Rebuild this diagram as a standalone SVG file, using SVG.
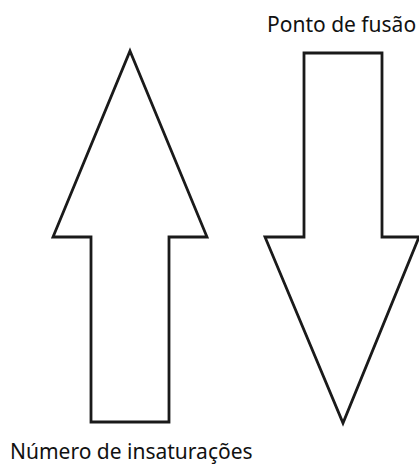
<svg xmlns="http://www.w3.org/2000/svg" width="419" height="465" viewBox="0 0 419 465">
<style>
.arrow{fill:#fff;stroke:#1a1a1a;stroke-width:2.8;stroke-linejoin:miter}
.lbl{font-family:"Noto Sans","Open Sans",sans-serif;font-size:21px;fill:#111}
</style>
<rect width="419" height="465" fill="#fff"/>
<g id="up-arrow">
<polygon class="arrow" points="130,51 207,237 169,237 169,422 91,422 91,237 53,237"/>
</g>
<g id="down-arrow">
<polygon class="arrow" points="304,53 382,53 382,237 419,237 343,423 265,237 304,237"/>
</g>
<g id="labels">
<text class="lbl" x="267" y="32">Ponto de fusão</text>
<text class="lbl" x="10" y="459">Número de insaturações</text>
</g>
</svg>
